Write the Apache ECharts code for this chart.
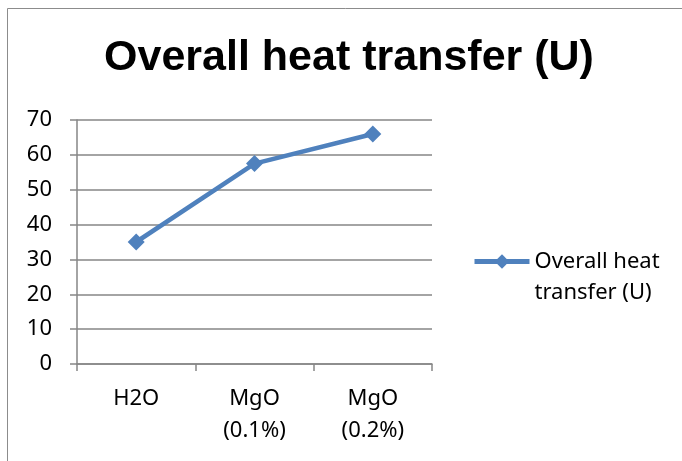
<!DOCTYPE html>
<html>
<head>
<meta charset="utf-8">
<script src="https://cdn.jsdelivr.net/npm/echarts@6/dist/echarts.min.js"></script>
<style>
html,body{margin:0;padding:0;background:#fff;}
#chart{width:682px;height:461px;}
</style>
</head>
<body>
<div id="chart"></div>
<script>
const titleText = 'Overall heat transfer (U)';
const seriesName = 'Overall heat transfer (U)';
const legendLabel = ' \nOverall heat\ntransfer (U)';
const categories = ['H2O', 'MgO\n(0.1%)', 'MgO\n(0.2%)'];
const values = [35, 57.5, 66];
const yMin = 0, yMax = 70, yStep = 10;

const chart = echarts.init(document.getElementById('chart'), null, {renderer: 'canvas'});
const labelFont = '"Noto Sans", "Open Sans", sans-serif';
const axisColor = '#868686';
chart.setOption({
  animation: false,
  backgroundColor: '#fff',
  graphic: [{
    type: 'rect',
    shape: {x: 7.5, y: 8.5, width: 720, height: 520},
    style: {fill: 'none', stroke: '#8c8c8c', lineWidth: 1},
    silent: true
  }],
  title: {
    text: titleText,
    left: 349,
    textAlign: 'center',
    top: 37,
    padding: 0,
    textStyle: {
      fontFamily: '"Liberation Sans Narrow", "Liberation Sans", Arial, sans-serif',
      fontWeight: 'bold',
      fontSize: 43,
      color: '#000'
    }
  },
  legend: {
    left: 472,
    top: 215,
    padding: 0,
    orient: 'vertical',
    itemWidth: 55,
    itemHeight: 18,
    itemGap: 5,
    formatter: function () { return legendLabel; },
    lineStyle: {width: 5},
    textStyle: {
      fontFamily: labelFont,
      fontSize: 22,
      color: '#000',
      lineHeight: 31
    },
    data: [seriesName]
  },
  grid: {left: 77, right: 250, top: 120, bottom: 97, containLabel: false},
  xAxis: {
    type: 'category',
    data: categories,
    boundaryGap: true,
    axisLine: {lineStyle: {color: axisColor, width: 1.5}},
    axisTick: {show: true, length: 7, inside: false, alignWithLabel: false, lineStyle: {color: axisColor, width: 1.5}},
    axisLabel: {
      fontFamily: labelFont, fontSize: 22, color: '#000',
      margin: 19, lineHeight: 32, interval: 0
    },
    splitLine: {show: false}
  },
  yAxis: {
    type: 'value',
    min: yMin, max: yMax, interval: yStep,
    axisLine: {show: true, lineStyle: {color: axisColor, width: 1.5}},
    axisTick: {show: true, length: 7, lineStyle: {color: axisColor, width: 1.5}},
    axisLabel: {fontFamily: labelFont, fontSize: 22, color: '#000', margin: 25},
    splitLine: {show: true, lineStyle: {color: axisColor, width: 1.5}}
  },
  series: [{
    name: seriesName,
    type: 'line',
    data: values,
    symbol: 'diamond',
    symbolSize: 17,
    showSymbol: true,
    lineStyle: {color: '#4F81BD', width: 4.5},
    itemStyle: {color: '#4F81BD'}
  }]
});
</script>
</body>
</html>
